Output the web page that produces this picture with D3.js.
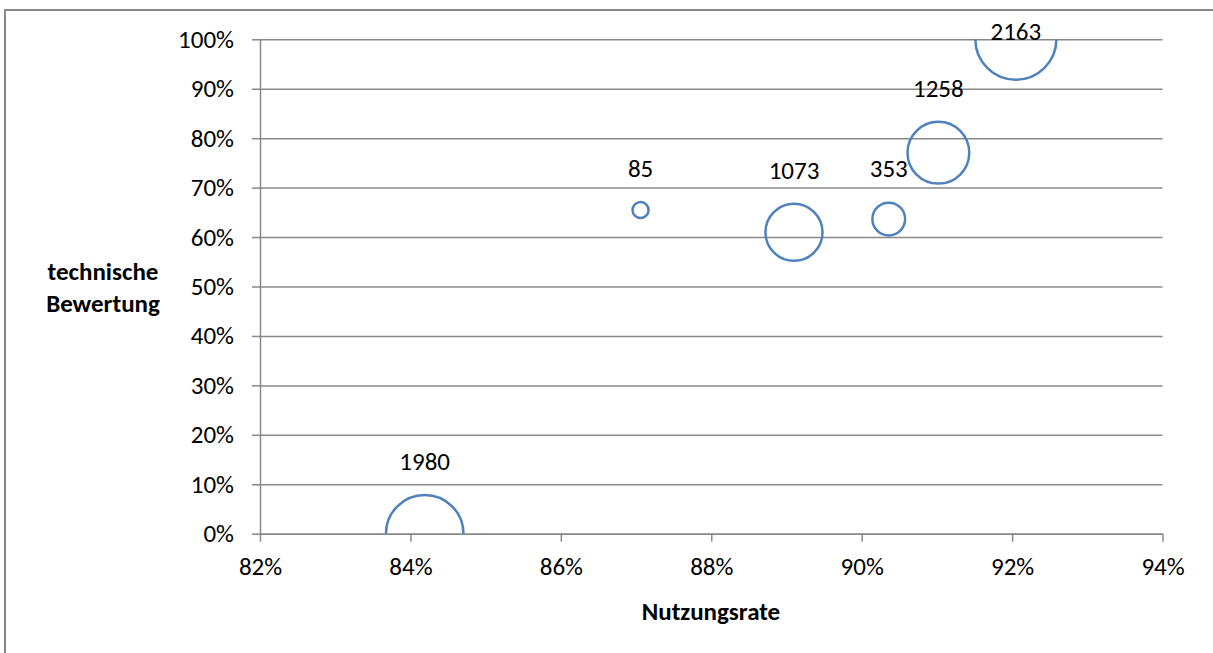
<!DOCTYPE html>
<html lang="de">
<head>
<meta charset="UTF-8" />
<script src="https://d3js.org/d3.v7.min.js"></script>
<style>
  body { margin: 0; background: #fff; }
  svg text { font-family: Carlito, Calibri, Lato, sans-serif; fill: #000; }
</style>
</head>
<body>
<svg width="1213" height="653"></svg>
<script>
// bubble values (label = size)
var sizes = [1980, 85, 1073, 353, 1258, 2163];
// Nutzungsrate (x)
var nutzung = [0.8419, 0.8706, 0.8910, 0.9036, 0.9102, 0.9205];
// technische Bewertung (y)
var bewertung = [0.0, 0.6547, 0.6096, 0.6365, 0.7706, 1.0];
var xTicks = [0.82, 0.84, 0.86, 0.88, 0.90, 0.92, 0.94];
var yTicks = [0, 0.1, 0.2, 0.3, 0.4, 0.5, 0.6, 0.7, 0.8, 0.9, 1.0];

var svg = d3.select("svg");
var plotL = 260, plotR = 1162.5, plotT = 39.3, plotB = 533.7;
var grey = "#888888", blue = "#4f81bd";
var fs = 25;

// outer chart frame (cut off at the right and bottom)
svg.append("rect")
  .attr("x", 5).attr("y", 10)
  .attr("width", 1300).attr("height", 700)
  .attr("fill", "none").attr("stroke", grey).attr("stroke-width", 2);

var x = d3.scaleLinear().domain([0.82, 0.94]).range([plotL, plotR]);
var y = d3.scaleLinear().domain([0, 1]).range([plotB, plotT]);
var r = d3.scaleSqrt().domain([0, 2163]).range([0, 40.5]);
var pct = d3.format(".0%");

// horizontal gridlines
svg.append("g")
  .attr("transform", "translate(" + plotL + ",0)")
  .call(d3.axisLeft(y).tickValues(yTicks).tickSize(-(plotR - plotL)).tickFormat(""))
  .call(g => g.select(".domain").remove())
  .call(g => g.selectAll("line").attr("stroke", grey).attr("stroke-width", 1.5));

// y axis
svg.append("g")
  .attr("transform", "translate(" + plotL + ",0)")
  .call(d3.axisLeft(y).tickValues(yTicks).tickSize(8).tickSizeOuter(0).tickPadding(18).tickFormat(pct))
  .call(g => g.select(".domain").attr("stroke", grey).attr("stroke-width", 1.5))
  .call(g => g.selectAll("line").attr("stroke", grey).attr("stroke-width", 1.5))
  .call(g => g.selectAll("text").attr("font-size", fs).attr("font-family", null));

// x axis
svg.append("g")
  .attr("transform", "translate(0," + plotB + ")")
  .call(d3.axisBottom(x).tickValues(xTicks).tickSize(8).tickSizeOuter(0).tickPadding(16).tickFormat(pct))
  .call(g => g.select(".domain").attr("stroke", grey).attr("stroke-width", 1.5))
  .call(g => g.selectAll("line").attr("stroke", grey).attr("stroke-width", 1.5))
  .call(g => g.selectAll("text").attr("font-size", fs).attr("font-family", null));

// axis titles
svg.append("text")
  .attr("x", 711).attr("y", 620)
  .attr("text-anchor", "middle").attr("font-size", fs).attr("font-weight", "bold")
  .text("Nutzungsrate");
var yt = svg.append("text")
  .attr("text-anchor", "middle").attr("font-size", fs).attr("font-weight", "bold");
yt.append("tspan").attr("x", 103).attr("y", 280).text("technische");
yt.append("tspan").attr("x", 103).attr("y", 312).text("Bewertung");

// bubbles, clipped to plot area
svg.append("clipPath").attr("id", "plot")
  .append("rect").attr("x", plotL).attr("y", plotT)
  .attr("width", plotR - plotL).attr("height", plotB - plotT);

var data = sizes.map((s, i) => ({ size: s, nx: nutzung[i], by: bewertung[i] }));

svg.append("g").attr("clip-path", "url(#plot)")
  .selectAll("circle").data(data).enter()
  .append("circle")
  .attr("cx", d => x(d.nx))
  .attr("cy", d => y(d.by))
  .attr("r", d => r(d.size))
  .attr("fill", "none")
  .attr("stroke", blue)
  .attr("stroke-width", 2.5);

// data labels above bubbles
svg.append("g").selectAll("text").data(data).enter()
  .append("text")
  .attr("x", d => x(d.nx))
  .attr("y", d => Math.max(y(d.by) - r(d.size) - 34, 31))
  .attr("dy", "0.35em")
  .attr("text-anchor", "middle")
  .attr("font-size", fs)
  .text(d => d.size);
</script>
</body>
</html>
